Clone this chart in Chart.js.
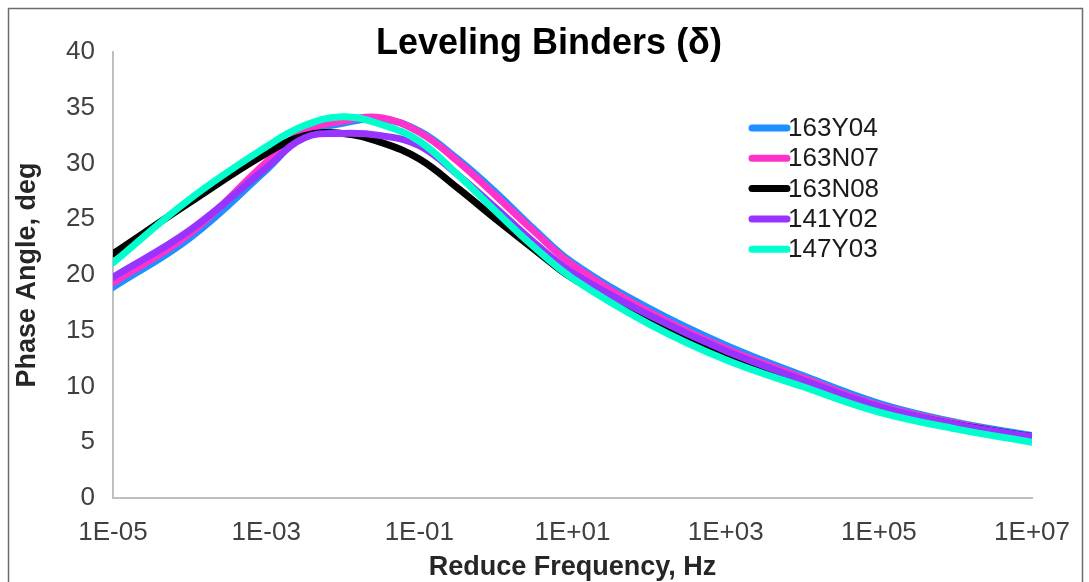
<!DOCTYPE html>
<html><head><meta charset="utf-8">
<script src="https://cdn.jsdelivr.net/npm/chart.js@4"></script>
<style>html,body{margin:0;padding:0;background:#fff;} canvas{display:block;}</style>
</head><body>
<canvas id="c" width="1089" height="582"></canvas>
<script>
const chartTitle = 'Leveling Binders (δ)';
const xAxisTitle = 'Reduce Frequency, Hz';
const yAxisTitle = 'Phase Angle, deg';
const seriesNames = ['163Y04', '163N07', '163N08', '141Y02', '147Y03'];
const seriesColors = ['#1E90FF', '#FF33CC', '#000000', '#9933FF', '#00FFCC'];
const frequencies = [1e-5, 1e-4, 1e-3, 3.162e-3, 1e-2, 3.162e-2, 1e-1, 3.162e-1, 1, 3.162, 10, 100, 1e3, 1e4, 1e5, 1e6, 1e7];
const s163Y04 = [18.9, 23.3, 29.4, 32.6, 33.6, 34.0, 32.9, 30.4, 27.4, 24.1, 21.1, 17.0, 13.7, 11.0, 8.5, 6.8, 5.6];
const s163N07 = [19.3, 23.7, 30.1, 32.9, 33.8, 34.1, 32.8, 30.2, 27.1, 23.9, 20.9, 16.7, 13.4, 10.8, 8.3, 6.7, 5.4];
const s163N08 = [21.9, 26.5, 30.9, 32.5, 32.7, 31.9, 30.4, 27.8, 25.0, 22.3, 19.7, 15.9, 12.9, 10.4, 8.1, 6.6, 5.5];
const s141Y02 = [19.8, 24.0, 29.6, 32.3, 32.7, 32.5, 31.6, 29.0, 26.0, 22.9, 20.2, 16.4, 13.2, 10.6, 8.2, 6.6, 5.5];
const s147Y03 = [21.1, 26.8, 31.5, 33.4, 34.2, 33.5, 32.0, 29.0, 25.7, 22.5, 19.7, 15.6, 12.4, 10.0, 7.7, 6.2, 5.0];
const xTickValues = [1e-5, 1e-3, 1e-1, 1e1, 1e3, 1e5, 1e7];
const xTickLabels = ['1E-05', '1E-03', '1E-01', '1E+01', '1E+03', '1E+05', '1E+07'];
const yTickStep = 5;

const seriesValues = [s163Y04, s163N07, s163N08, s141Y02, s147Y03];
const FONT = "'Liberation Sans', Arial, sans-serif";

const datasets = seriesNames.map((name, i) => ({
  label: name,
  data: frequencies.map((f, j) => ({x: f, y: seriesValues[i][j]})),
  borderColor: seriesColors[i],
  backgroundColor: seriesColors[i],
  borderWidth: 7,
  pointRadius: 0,
  fill: false,
  tension: 0.4,
  borderCapStyle: 'round',
  borderJoinStyle: 'round',
  order: seriesNames.length - i
}));

const framePlugin = {
  id: 'frame',
  beforeDraw(chart) {
    const ctx = chart.ctx;
    ctx.save();
    ctx.fillStyle = '#fff';
    ctx.fillRect(0, 0, chart.width, chart.height);
    ctx.strokeStyle = '#6b6b6b';
    ctx.lineWidth = 1.5;
    ctx.beginPath();
    ctx.moveTo(8.5, chart.height + 2);
    ctx.lineTo(8.5, 8.5);
    ctx.lineTo(1082.5, 8.5);
    ctx.lineTo(1082.5, chart.height + 2);
    ctx.stroke();
    ctx.restore();
  }
};

const titlePlugin = {
  id: 'centeredTitle',
  afterDraw(chart) {
    const ctx = chart.ctx;
    ctx.save();
    ctx.font = 'bold 36px ' + FONT;
    ctx.fillStyle = '#000';
    ctx.textAlign = 'center';
    ctx.textBaseline = 'middle';
    ctx.fillText(chartTitle, 549, 44);
    ctx.restore();
  }
};

const legendPlugin = {
  id: 'customLegend',
  afterDraw(chart) {
    const ctx = chart.ctx;
    const x0 = 752, y0 = 128, step = 30.3, len = 35;
    ctx.save();
    ctx.font = '26px ' + FONT;
    ctx.textBaseline = 'middle';
    ctx.textAlign = 'left';
    seriesNames.forEach((name, i) => {
      const y = y0 + i * step;
      ctx.strokeStyle = seriesColors[i];
      ctx.lineWidth = 7;
      ctx.lineCap = 'round';
      ctx.beginPath();
      ctx.moveTo(x0, y);
      ctx.lineTo(x0 + len, y);
      ctx.stroke();
      ctx.fillStyle = '#1a1a1a';
      ctx.fillText(name, x0 + len + 1, y + 1);
    });
    ctx.restore();
  }
};

new Chart(document.getElementById('c'), {
  type: 'line',
  data: {datasets},
  plugins: [framePlugin, titlePlugin, legendPlugin],
  options: {
    responsive: false,
    animation: false,
    devicePixelRatio: 1,
    layout: {padding: {left: 0, right: 51, top: 52, bottom: 0}},
    plugins: {
      legend: {display: false},
      tooltip: {enabled: false},
      title: {display: false}
    },
    scales: {
      x: {
        type: 'logarithmic',
        min: xTickValues[0],
        max: xTickValues[xTickValues.length - 1],
        grid: {display: false, drawTicks: false},
        border: {display: true, color: '#BFBFBF', width: 2},
        afterBuildTicks(axis) { axis.ticks = xTickValues.map(v => ({value: v})); },
        afterFit(scale) { scale.height = 84; },
        ticks: {
          autoSkip: false, maxRotation: 0, padding: 19,
          color: '#404040',
          font: {family: FONT, size: 26},
          callback(v) {
            const i = xTickValues.findIndex(t => Math.abs(Math.log10(t) - Math.log10(v)) < 1e-6);
            return i >= 0 ? xTickLabels[i] : '';
          }
        },
        title: {
          display: true, text: xAxisTitle, color: '#262626',
          font: {family: FONT, size: 27, weight: 'bold'},
          padding: {top: 0, bottom: -2}
        }
      },
      y: {
        min: 0, max: 40,
        grid: {display: false, drawTicks: false},
        border: {display: true, color: '#BFBFBF', width: 2},
        afterFit(scale) { scale.width = 113; },
        ticks: {
          stepSize: yTickStep, padding: 18,
          color: '#404040',
          font: {family: FONT, size: 26}
        },
        title: {
          display: true, text: yAxisTitle, color: '#262626',
          font: {family: FONT, size: 27, weight: 'bold'},
          padding: {top: 11, bottom: 0}
        }
      }
    }
  }
});
</script>
</body></html>
